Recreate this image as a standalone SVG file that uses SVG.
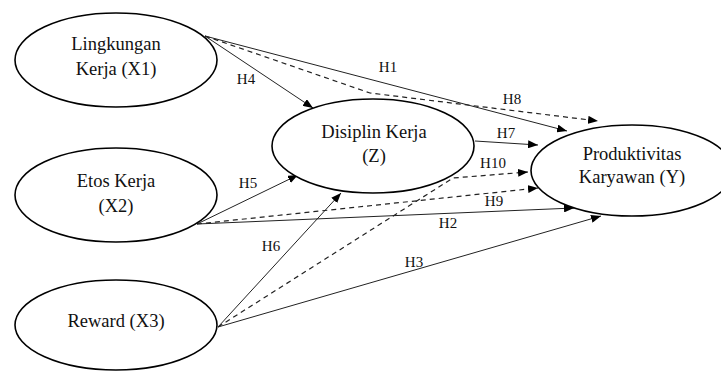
<svg xmlns="http://www.w3.org/2000/svg" width="721" height="371" viewBox="0 0 721 371">
<defs>
<marker id="ah" viewBox="0 0 10 8" refX="10" refY="4" markerWidth="10" markerHeight="8" markerUnits="userSpaceOnUse" orient="auto">
<path d="M0,0 L10,4 L0,8 Z" fill="#000"/>
</marker>
<style>
.node ellipse{fill:#fff;stroke:#000;stroke-width:1.6}
.node text{font-family:"Liberation Serif","Times New Roman",serif;font-size:18.5px;fill:#111;text-anchor:middle}
.lbl{font-family:"Liberation Serif","Times New Roman",serif;font-size:15px;fill:#111;text-anchor:middle}
.c{fill:none;stroke:#222;stroke-width:1;marker-end:url(#ah)}
.d{stroke-dasharray:5,4;stroke-width:1.2}
</style>
</defs>
<rect width="721" height="371" fill="#fff"/>
<g id="connectors">
<line class="c" x1="205" y1="36" x2="313" y2="108"/>
<line class="c" x1="205" y1="36" x2="567" y2="131"/>
<polyline class="c d" points="205,36 370,93 598,121"/>
<line class="c" x1="197" y1="224" x2="298" y2="175"/>
<line class="c d" x1="197" y1="224" x2="538" y2="188"/>
<line class="c" x1="197" y1="224" x2="574" y2="208"/>
<line class="c" x1="218" y1="327" x2="341" y2="193"/>
<polyline class="c d" points="218,327 453,178 528,172"/>
<line class="c" x1="218" y1="327" x2="601" y2="216"/>
<line class="c" x1="475" y1="141" x2="538" y2="145"/>
</g>
<g id="labels">
<text class="lbl" x="246" y="84">H4</text>
<text class="lbl" x="388" y="72">H1</text>
<text class="lbl" x="512" y="104">H8</text>
<text class="lbl" x="506" y="138">H7</text>
<text class="lbl" x="493" y="168">H10</text>
<text class="lbl" x="248" y="188">H5</text>
<text class="lbl" x="494" y="206">H9</text>
<text class="lbl" x="448" y="228">H2</text>
<text class="lbl" x="271" y="251">H6</text>
<text class="lbl" x="414" y="267">H3</text>
</g>
<g id="X1" class="node">
<ellipse cx="116" cy="60" rx="101" ry="47"/>
<text x="116" y="50">Lingkungan</text>
<text x="116" y="75">Kerja (X1)</text>
</g>
<g id="X2" class="node">
<ellipse cx="116" cy="195" rx="101" ry="47"/>
<text x="116" y="187">Etos Kerja</text>
<text x="116" y="212">(X2)</text>
</g>
<g id="X3" class="node">
<ellipse cx="116" cy="325" rx="101" ry="45"/>
<text x="116" y="327">Reward (X3)</text>
</g>
<g id="Z" class="node">
<ellipse cx="373" cy="146" rx="101" ry="47"/>
<text x="374" y="138">Disiplin Kerja</text>
<text x="374" y="162">(Z)</text>
</g>
<g id="Y" class="node">
<ellipse cx="632" cy="170.5" rx="101" ry="45.5"/>
<text x="632" y="160">Produktivitas</text>
<text x="632" y="183">Karyawan (Y)</text>
</g>
</svg>
